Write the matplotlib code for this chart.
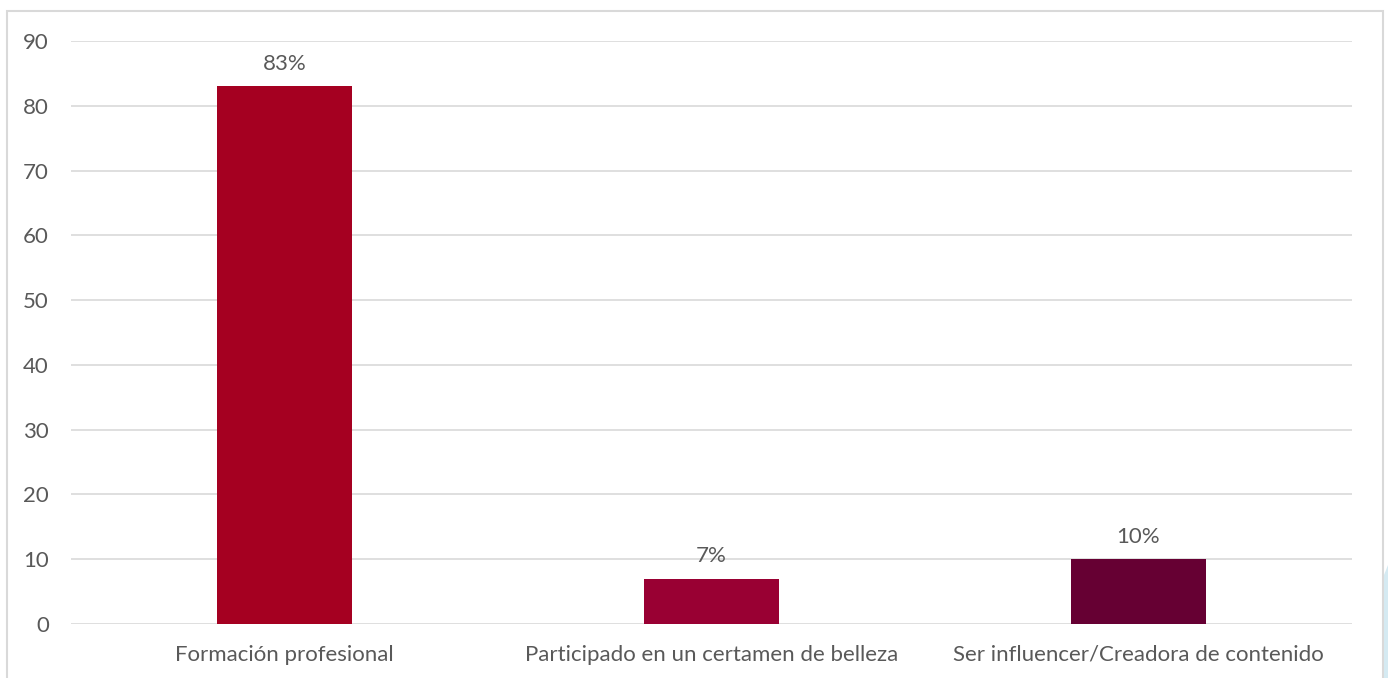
import matplotlib
matplotlib.use('Agg')
import matplotlib.pyplot as plt
from matplotlib.patches import Rectangle, Polygon

categories = ['Formación profesional', 'Participado en un certamen de belleza',
              'Ser influencer/Creadora de contenido']
values = [83, 7, 10]
labels = ['83%', '7%', '10%']
colors = ['#A50021', '#990033', '#660033']
yticks = [0, 10, 20, 30, 40, 50, 60, 70, 80, 90]

plt.rcParams['font.family'] = ['Lato', 'DejaVu Sans']
txt = '#595959'
fs = 16

W, H = 1388, 678
fig = plt.figure(figsize=(W/100, H/100), dpi=100)
ax = fig.add_axes([71/W, 1-624/H, (1352-71)/W, (624-41)/H])

x = range(len(categories))
bars = ax.bar(x, values, width=0.314, color=colors, zorder=3)
for b, lab in zip(bars, labels):
    ax.annotate(lab, (b.get_x()+b.get_width()/2, b.get_height()),
                xytext=(0, 9), textcoords='offset points', ha='center', va='bottom',
                fontsize=fs, color=txt)

ax.set_xlim(-0.5, 2.5)
ax.set_ylim(0, 90)
ax.set_yticks(yticks)
ax.set_xticks(list(x))
ax.set_xticklabels(categories)
ax.tick_params(axis='both', length=0, labelsize=fs, labelcolor=txt)
ax.tick_params(axis='y', pad=16)
ax.tick_params(axis='x', pad=15)
ax.grid(axis='y', color='#D9D9D9', linewidth=1.2, zorder=0)
for s in ax.spines.values():
    s.set_visible(False)

# chart border
fig.patches.append(Rectangle((7/W, -0.01), (1383-7)/W, 1-11/H+0.01,
                             transform=fig.transFigure, fill=False,
                             edgecolor='#D9D9D9', linewidth=1.5))
# light blue decoration at bottom right
fig.patches.append(Polygon([(1384/W, 1-575/H), (1388/W, 1-565/H), (1388/W, 0), (1384/W, 0)],
                           closed=True, transform=fig.transFigure,
                           facecolor='#D5EAF2', edgecolor='none'))

fig.savefig('out.png', dpi=100)
